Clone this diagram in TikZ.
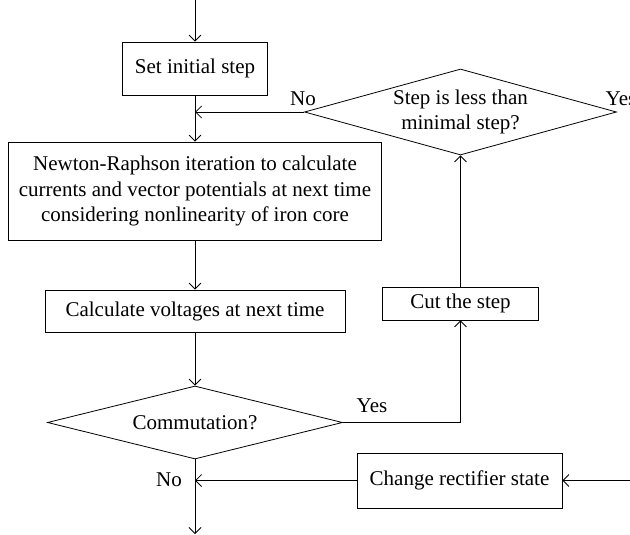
\documentclass[tikz,border=0pt]{standalone}
\usepackage{fontspec}
\setmainfont{Liberation Serif}
\usepackage{tikz}
\usetikzlibrary{shapes.geometric,arrows.meta}

\begin{document}
\begin{tikzpicture}[x=1pt,y=-1pt,line width=0.8pt,
		>={Straight Barb[length=6pt,width=12pt]},
		txt/.style={font=\fontsize{21}{25.5}\selectfont},
		box/.style={txt,draw,align=center,inner sep=0pt},
		dec/.style={txt,draw,diamond,aspect=3.5,inner sep=0pt,align=center}]
				\useasboundingbox (0,0) rectangle (630,535);
				\coordinate (start) at (195,0);
				\coordinate (stop) at (195,534);
				\coordinate (feed) at (630,480.5);
				\node[box,minimum width=145pt,minimum height=53pt] (init) at (195,68.5) {Set initial step};
				\node[box,minimum width=373pt,minimum height=98pt] (nr) at (195,191) {Newton-Raphson iteration to calculate\\currents and vector potentials at next time\\considering nonlinearity of iron core};
				\node[box,minimum width=300pt,minimum height=42pt] (volt) at (195,311) {Calculate voltages at next time};
				\node[dec,minimum width=295pt,minimum height=73pt] (comm) at (195,422.5) {Commutation?};
				\node[box,minimum width=156pt,minimum height=33pt] (cut) at (460.5,303.5) {Cut the step};
				\node[dec,minimum width=312pt,minimum height=86pt] (minstep) at (460.5,112) {Step is less than\\minimal step?};
				\node[box,minimum width=205pt,minimum height=55pt] (rect) at (459.5,480.5) {Change rectifier state};
				\node[txt] (no1) at (303,99) {No};
				\node[txt] (yes1) at (621,99) {Yes};
				\node[txt] (yes2) at (372,406) {Yes};
				\node[txt] (no2) at (169,480) {No};
				\draw[->] (start) -- (init);
				\draw[->] (init) -- (nr);
				\draw[->] (minstep.west) -- (init.south |- minstep.west);
				\draw[->] (nr) -- (volt);
				\draw[->] (volt) -- (comm);
				\draw[->] (comm.east) -| (cut.south);
				\draw[->] (cut) -- (minstep.south);
				\draw[->] (feed) -- (rect);
				\draw[->] (rect.west) -- (comm.south |- rect.west);
				\draw[->] (comm.south) -- (stop);
			\end{tikzpicture}
\end{document}
